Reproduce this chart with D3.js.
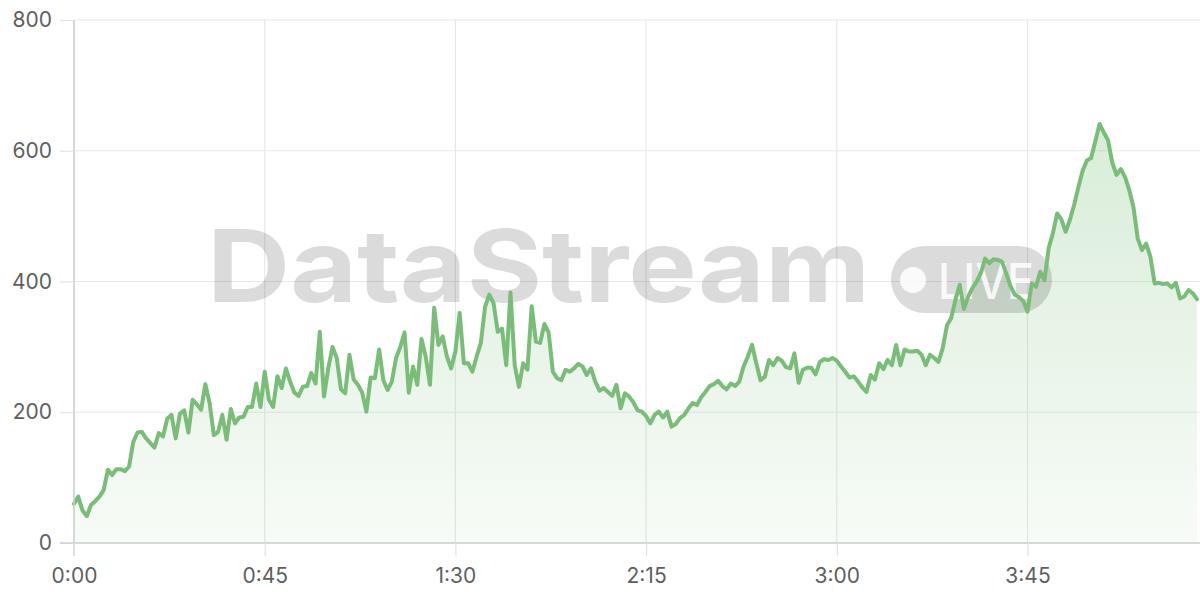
<!DOCTYPE html>
<html><head><meta charset="utf-8">
<script src="https://cdn.jsdelivr.net/npm/d3@7"></script>
<style>html,body{margin:0;padding:0;background:#fff;} svg{display:block;}</style>
</head><body>
<svg id="chart" width="1200" height="600"></svg>
<script>
// value per minute, t = 0 .. 265
const values = [
  60, 71, 50, 41, 58, 64, 71, 81, 112, 104,
  113, 113, 110, 117, 155, 169, 170, 160, 153, 146,
  168, 163, 190, 196, 160, 198, 203, 169, 219, 212,
  204, 243, 214, 165, 170, 196, 158, 205, 183, 192,
  193, 208, 208, 244, 208, 262, 219, 208, 255, 237,
  267, 247, 230, 225, 239, 240, 260, 244, 323, 224,
  267, 300, 283, 235, 229, 288, 250, 242, 230, 201,
  253, 252, 296, 249, 234, 247, 283, 300, 322, 230,
  270, 242, 312, 285, 242, 360, 303, 316, 285, 267,
  293, 352, 275, 275, 262, 285, 306, 361, 380, 367,
  323, 328, 272, 383, 272, 239, 275, 265, 362, 308,
  306, 335, 322, 262, 252, 249, 265, 262, 267, 274,
  270, 257, 267, 247, 233, 237, 231, 225, 242, 206,
  229, 224, 215, 203, 201, 194, 183, 196, 201, 192,
  201, 178, 182, 191, 196, 206, 214, 211, 223, 231,
  240, 243, 248, 240, 235, 244, 240, 247, 270, 285,
  303, 275, 249, 254, 280, 272, 283, 279, 269, 267,
  290, 245, 265, 268, 268, 258, 277, 281, 280, 283,
  279, 270, 262, 253, 255, 247, 238, 231, 257, 250,
  275, 266, 280, 272, 303, 272, 296, 293, 293, 294,
  288, 272, 288, 283, 277, 298, 333, 344, 372, 395,
  358, 377, 390, 400, 413, 435, 428, 434, 433, 430,
  412, 393, 380, 376, 370, 354, 397, 392, 415, 402,
  451, 474, 504, 495, 476, 494, 517, 544, 569, 585,
  589, 614, 641, 628, 616, 582, 563, 572, 560, 540,
  514, 466, 448, 458, 438, 397, 398, 396, 397, 391,
  398, 374, 377, 387, 382, 373
];
const minutes = values.map((v, i) => i);
const xTickValues = [0, 45, 90, 135, 180, 225];
const yTickValues = [0, 200, 400, 600, 800];
const watermarkTitle = "DataStream";
const watermarkBadge = "LIVE";

(function () {
const data = minutes.map((m, i) => ({m, v: values[i]}));
const svg = d3.select("#chart");
const W = 1200;
const mLeft = 74, mRight = 1197, mTop = 20, mBottom = 543;

const x = d3.scaleLinear().domain([0, 265]).range([mLeft, mRight]);
const y = d3.scaleLinear().domain([0, 800]).range([mBottom, mTop]);
const fmt = m => Math.floor(m / 60) + ":" + String(m % 60).padStart(2, "0");

const defs = svg.append("defs");
const grad = defs.append("linearGradient").attr("id", "areaGrad")
  .attr("gradientUnits", "userSpaceOnUse")
  .attr("x1", 0).attr("x2", 0).attr("y1", y(800)).attr("y2", y(0));
grad.append("stop").attr("offset", "0%").attr("stop-color", "#78be78").attr("stop-opacity", 0.34);
grad.append("stop").attr("offset", "100%").attr("stop-color", "#78be78").attr("stop-opacity", 0.06);

// grid
svg.append("g").selectAll("line").data(yTickValues).join("line")
  .attr("x1", mLeft).attr("x2", W).attr("y1", d => y(d)).attr("y2", d => y(d))
  .attr("stroke", "#e8e8e8").attr("stroke-width", 1.2);
svg.append("g").selectAll("line").data(xTickValues).join("line")
  .attr("x1", d => x(d)).attr("x2", d => x(d)).attr("y1", mTop).attr("y2", mBottom)
  .attr("stroke", "#e8e8e8").attr("stroke-width", 1.2);

// area
svg.append("path").datum(data)
  .attr("fill", "url(#areaGrad)")
  .attr("d", d3.area().x(d => x(d.m)).y0(y(0)).y1(d => y(d.v)));

// watermark
const wm = svg.append("g").attr("pointer-events", "none");
wm.append("text").text(watermarkTitle)
  .attr("x", 207).attr("y", 302)
  .attr("font-family", "Inter, 'Open Sans', sans-serif").attr("font-weight", 700)
  .attr("font-size", 101).attr("fill", "#000").attr("fill-opacity", 0.14)
  .attr("textLength", 663).attr("lengthAdjust", "spacingAndGlyphs");
wm.append("rect").attr("x", 891).attr("y", 246).attr("width", 161).attr("height", 67)
  .attr("rx", 33.5).attr("fill", "#000").attr("fill-opacity", 0.14);
wm.append("circle").attr("cx", 913).attr("cy", 280).attr("r", 13).attr("fill", "#fff").attr("fill-opacity", 0.85);
wm.append("text").text(watermarkBadge)
  .attr("x", 938).attr("y", 299)
  .attr("font-family", "Inter, 'Open Sans', sans-serif").attr("font-weight", 500)
  .attr("font-size", 50).attr("fill", "#fff").attr("fill-opacity", 0.85)
  .attr("textLength", 96).attr("lengthAdjust", "spacingAndGlyphs");

// line
svg.append("path").datum(data)
  .attr("fill", "none").attr("stroke", "#79bd79").attr("stroke-width", 4)
  .attr("stroke-linejoin", "round").attr("stroke-linecap", "round")
  .attr("d", d3.line().x(d => x(d.m)).y(d => y(d.v)));

// axes
const yAxis = svg.append("g").attr("transform", `translate(${mLeft},0)`)
  .call(d3.axisLeft(y).tickValues(yTickValues).tickSize(14).tickPadding(8));
const xAxis = svg.append("g").attr("transform", `translate(0,${mBottom})`)
  .call(d3.axisBottom(x).tickValues(xTickValues).tickFormat(fmt).tickSize(13).tickPadding(12));
[yAxis, xAxis].forEach(g => {
  g.select(".domain").attr("stroke", "#cfcfcf").attr("stroke-width", 1.5);
  g.selectAll(".tick line").attr("stroke", "#e3e3e3").attr("stroke-width", 1.2);
  g.selectAll("text").attr("fill", "#5f5f5f").attr("font-size", 21)
    .attr("font-family", "Inter, 'Open Sans', sans-serif");
});
xAxis.select(".domain").attr("d", `M${mLeft - 14},0H${W}`);
yAxis.select(".domain").attr("d", `M0,${mTop}V${mBottom + 13}`);
})();
</script>
</body></html>
